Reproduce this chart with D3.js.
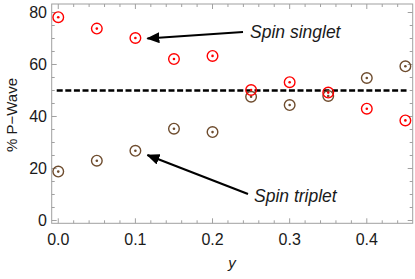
<!DOCTYPE html>
<html><head><meta charset="utf-8">
<script src="https://cdn.jsdelivr.net/npm/d3@7"></script>
<style>body{margin:0;background:#fff;} svg{display:block;}</style>
</head><body>
<svg id="c" width="415" height="279"></svg>
<script>
const yVals = [0, 0.05, 0.1, 0.15, 0.2, 0.25, 0.3, 0.35, 0.4, 0.45];
const singlet = [78.2, 73.8, 70.2, 62.1, 63.3, 50.2, 53.2, 49.2, 43.0, 38.5];
const triplet = [18.8, 23.0, 26.8, 35.3, 34.0, 47.6, 44.4, 47.9, 54.8, 59.3];
const xTicks = [0, 0.1, 0.2, 0.3, 0.4];
const yTicks = [0, 20, 40, 60, 80];
const refLine = 50;

const svg = d3.select("#c");
const L = 51.7, R = 412.7, T = 4, B = 223.3;
const x = d3.scaleLinear().domain([-0.0085, 0.4595]).range([L, R]);
const y = d3.scaleLinear().domain([-1.08, 83.27]).range([B, T]);
const frameCol = "#a0a0a0", textCol = "#1a1a1a";
const font = "'Liberation Sans', Arial, sans-serif";

// frame
svg.append("rect").attr("x", L).attr("y", T).attr("width", R - L).attr("height", B - T)
  .attr("fill", "none").attr("stroke", frameCol).attr("stroke-width", 1);

const xMinor = d3.range(0, 0.4601, 0.02).filter(v => x(v) < R);
const yMinor = d3.range(0, 83, 5);
[[B, -1], [T, 1]].forEach(([y0, dir]) => {
  svg.append("g").selectAll("line").data(xMinor).join("line")
    .attr("x1", d => x(d)).attr("x2", d => x(d))
    .attr("y1", y0).attr("y2", d => y0 + dir * (xTicks.some(t => Math.abs(t - d) < 1e-6) ? 5 : 3))
    .attr("stroke", frameCol).attr("stroke-width", 1);
});
[[L, 1], [R, -1]].forEach(([x0, dir]) => {
  svg.append("g").selectAll("line").data(yMinor).join("line")
    .attr("y1", d => y(d)).attr("y2", d => y(d))
    .attr("x1", x0).attr("x2", d => x0 + dir * (yTicks.includes(d) ? 5 : 3))
    .attr("stroke", frameCol).attr("stroke-width", 1);
});

// tick labels
svg.append("g").selectAll("text").data(xTicks).join("text")
  .attr("x", d => x(d)).attr("y", 245).attr("text-anchor", "middle")
  .attr("font-family", font).attr("font-size", 16).attr("fill", textCol)
  .text(d => d.toFixed(1));
svg.append("g").selectAll("text").data(yTicks).join("text")
  .attr("x", 47).attr("y", d => y(d) + 5.5).attr("text-anchor", "end")
  .attr("font-family", font).attr("font-size", 16).attr("fill", textCol)
  .text(d => d);

// axis labels
svg.append("text").attr("x", 232).attr("y", 268).attr("text-anchor", "middle")
  .attr("font-family", font).attr("font-size", 15).attr("font-style", "italic").attr("fill", textCol).text("y");
svg.append("text").attr("transform", "translate(17,115) rotate(-90)").attr("text-anchor", "middle")
  .attr("font-family", font).attr("font-size", 15).attr("fill", textCol).text("% P\u2212Wave");

// dashed reference line
svg.append("line").attr("x1", x(-0.002)).attr("x2", x(0.4515)).attr("y1", y(refLine)).attr("y2", y(refLine))
  .attr("stroke", "#000").attr("stroke-width", 2.4).attr("stroke-dasharray", "6,2.6");

// markers
function drawSeries(vals, col) {
  const g = svg.append("g");
  g.selectAll("circle.o").data(vals).join("circle")
    .attr("cx", (d, i) => x(yVals[i])).attr("cy", d => y(d)).attr("r", 5.3)
    .attr("fill", "none").attr("stroke", col).attr("stroke-width", 1.4);
  g.selectAll("circle.i").data(vals).join("circle")
    .attr("cx", (d, i) => x(yVals[i])).attr("cy", d => y(d)).attr("r", 1.3)
    .attr("fill", col);
}
drawSeries(triplet, "#6e4c2e");
drawSeries(singlet, "#ff0000");

// arrows
svg.append("defs").append("marker").attr("id", "ah").attr("viewBox", "0 0 13 11")
  .attr("refX", 12).attr("refY", 5.5).attr("markerWidth", 13).attr("markerHeight", 11)
  .attr("markerUnits", "userSpaceOnUse").attr("orient", "auto")
  .append("path").attr("d", "M0,0 L13,5.5 L0,11 Z").attr("fill", "#000");
svg.append("line").attr("x1", 243).attr("y1", 32).attr("x2", x(0.1) + 12).attr("y2", 38.5)
  .attr("stroke", "#000").attr("stroke-width", 2.2).attr("marker-end", "url(#ah)");
svg.append("line").attr("x1", 248).attr("y1", 194).attr("x2", x(0.1) + 12).attr("y2", 155)
  .attr("stroke", "#000").attr("stroke-width", 2.2).attr("marker-end", "url(#ah)");
svg.append("text").attr("x", 250).attr("y", 38).attr("font-family", font).attr("font-size", 17.5)
  .attr("font-style", "italic").attr("fill", textCol).text("Spin singlet");
svg.append("text").attr("x", 254).attr("y", 202).attr("font-family", font).attr("font-size", 17.5)
  .attr("font-style", "italic").attr("fill", textCol).text("Spin triplet");
</script>
</body></html>
